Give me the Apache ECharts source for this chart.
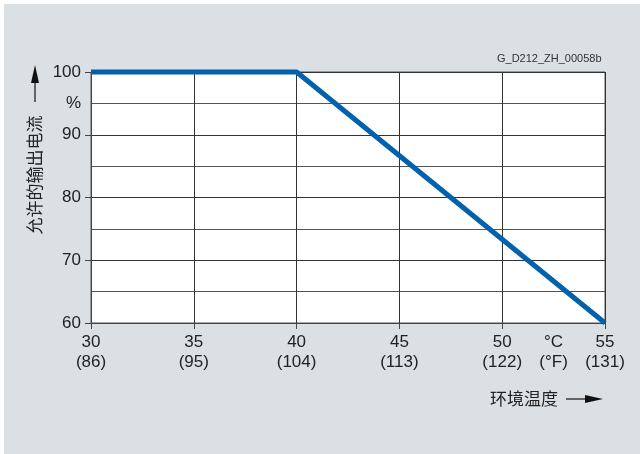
<!DOCTYPE html>
<html>
<head>
<meta charset="utf-8">
<script src="https://cdn.jsdelivr.net/npm/echarts@6/dist/echarts.min.js"></script>
<style>html,body{margin:0;padding:0;background:#fff}#chart{width:640px;height:454px}</style>
</head>
<body>
<div id="chart"></div>
<script>
// 数据
var tempC = [30, 35, 40, 45, 50, 55];
var tempF = [86, 95, 104, 113, 122, 131];
var curveX = [30, 40, 55];
var curveY = [100, 100, 60];
var unitLabelAt = 52.5;
var unitLabel = '°C\n(°F)';
var percentAt = 95;

var myChart = echarts.init(document.getElementById('chart'));

var font = 'Liberation Sans, Arial, sans-serif';
var cjk = 'Noto Sans CJK SC, sans-serif';

var points = curveX.map(function (x, i) { return [x, curveY[i]]; });

var option = {
    animation: false,
    backgroundColor: '#fff',
    graphic: [
        { type: 'rect', z: -10, shape: { x: 4, y: 4, width: 636, height: 450 }, style: { fill: '#dbe0e4' } },
        { type: 'text', left: 497, top: 53, style: { text: 'G_D212_ZH_00058b', font: '11px ' + font, fill: '#333' } },
        // 纵轴名称
        { type: 'text', x: 35, y: 175, rotation: Math.PI / 2, style: { text: '允许的输出电流', font: '17px ' + cjk, fill: '#222', align: 'center', verticalAlign: 'middle' } },
        { type: 'line', shape: { x1: 35, y1: 80, x2: 35, y2: 102 }, style: { stroke: '#111', lineWidth: 1.2 } },
        { type: 'polygon', shape: { points: [[35, 65], [31, 83], [39, 83]] }, style: { fill: '#111' } },
        // 横轴名称
        { type: 'text', x: 490, y: 399, style: { text: '环境温度', font: '17px ' + cjk, fill: '#222', verticalAlign: 'middle' } },
        { type: 'line', shape: { x1: 566, y1: 399, x2: 588, y2: 399 }, style: { stroke: '#111', lineWidth: 1.2 } },
        { type: 'polygon', shape: { points: [[603, 399], [585, 395], [585, 403]] }, style: { fill: '#111' } }
    ],
    grid: {
        left: 91, top: 72, width: 514, height: 251,
        show: true, backgroundColor: '#fff', borderColor: '#555', borderWidth: 1
    },
    xAxis: [{
        type: 'value', min: 30, max: 55, interval: 5,
        axisLine: { lineStyle: { color: '#444' } },
        axisTick: { show: true, length: 6, lineStyle: { color: '#444' } },
        splitLine: { lineStyle: { color: '#333', width: 1 } },
        axisLabel: {
            margin: 9, color: '#222', fontSize: 17, fontFamily: font, lineHeight: 20,
            formatter: function (v) {
                var i = tempC.indexOf(v);
                return i < 0 ? '' : v + '\n(' + tempF[i] + ')';
            }
        }
    }, {
        type: 'value', position: 'bottom', min: 30, max: 55, interval: 2.5,
        axisLine: { show: false }, axisTick: { show: false }, splitLine: { show: false },
        axisLabel: {
            margin: 9, color: '#222', fontSize: 17, fontFamily: font, lineHeight: 20,
            formatter: function (v) { return v === unitLabelAt ? unitLabel : ''; }
        }
    }],
    yAxis: [{
        type: 'value', min: 60, max: 100, interval: 10,
        axisLine: { show: true, lineStyle: { color: '#444' } },
        axisTick: { show: true, length: 6, lineStyle: { color: '#444' } },
        splitLine: { lineStyle: { color: '#333', width: 1 } },
        minorTick: { show: false, splitNumber: 2 },
        minorSplitLine: { show: true, lineStyle: { color: '#555', width: 1 } },
        axisLabel: { margin: 10, color: '#222', fontSize: 17, fontFamily: font }
    }, {
        type: 'value', position: 'left', min: 60, max: 100, interval: 5,
        axisLine: { show: false }, axisTick: { show: false }, splitLine: { show: false },
        axisLabel: {
            margin: 10, color: '#222', fontSize: 17, fontFamily: font,
            formatter: function (v) { return v === percentAt ? '%' : ''; }
        }
    }],
    series: [{
        type: 'line',
        data: points,
        xAxisIndex: 0,
        yAxisIndex: 0,
        symbol: 'none',
        clip: false,
        lineStyle: { color: '#0061ad', width: 5 }
    }]
};

myChart.setOption(option);
</script>
</body>
</html>
